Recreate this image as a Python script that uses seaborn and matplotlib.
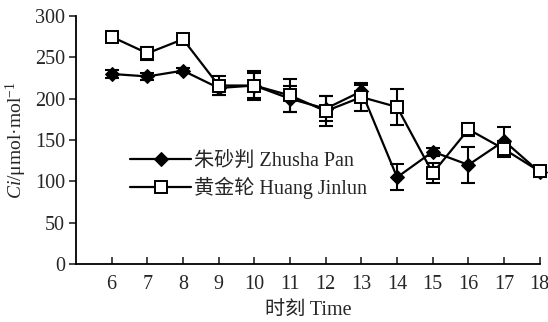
import matplotlib
matplotlib.use("Agg")
import matplotlib.pyplot as plt
import seaborn as sns
import pandas as pd

hours = [6, 7, 8, 9, 10, 11, 12, 13, 14, 15, 16, 17, 18]
zhusha_ci = [230, 227, 234, 213, 216, 200, 188, 209, 105, 136, 120, 149, 111]
zhusha_err = [5, 4, 3, 9, 15, 16, 15, 8, 16, 5, 22, 17, 6]
huang_ci = [275, 255, 272, 216, 216, 204, 185, 202, 190, 110, 163, 139, 112]
huang_err = [3, 8, 3, 12, 17, 20, 18, 17, 22, 12, 8, 10, 6]
series_names = ["朱砂判 Zhusha Pan", "黄金轮 Huang Jinlun"]
y_ticks = [0, 50, 100, 150, 200, 250, 300]

sns.set_style("ticks")
plt.rcParams["font.family"] = ["Liberation Serif", "Noto Sans CJK SC", "DejaVu Sans"]
plt.rcParams["mathtext.fontset"] = "custom"
plt.rcParams["mathtext.rm"] = "Liberation Serif"
plt.rcParams["mathtext.it"] = "Liberation Serif:italic"

df = pd.concat([
    pd.DataFrame({"hour": hours, "ci": zhusha_ci, "err": zhusha_err, "cultivar": series_names[0]}),
    pd.DataFrame({"hour": hours, "ci": huang_ci, "err": huang_err, "cultivar": series_names[1]}),
])

fig = plt.figure(figsize=(5.48, 3.22), dpi=100)
ax = fig.add_axes([0.1387, 0.18, 0.8463, 0.77])

styles = {
    series_names[0]: dict(marker="D", markersize=7.5, markerfacecolor="black", markeredgecolor="black"),
    series_names[1]: dict(marker="s", markersize=9, markerfacecolor="white", markeredgecolor="black",
                          markeredgewidth=1.4),
}

for name in series_names:
    sub = df[df["cultivar"] == name]
    eb = ax.errorbar(sub["hour"], sub["ci"], yerr=sub["err"], fmt="none", ecolor="black",
                     elinewidth=1.5, capsize=5, capthick=1.5, zorder=2)
    for artist in eb.lines[1] + eb.lines[2]:
        artist.set_clip_on(False)

for name in series_names:
    sub = df[df["cultivar"] == name]
    sns.lineplot(data=sub, x="hour", y="ci", ax=ax, color="black", linewidth=1.6,
                 label=name, zorder=3, clip_on=False, **styles[name])

ax.set_xlim(5, 18)
ax.set_ylim(0, 300)
ax.set_xticks(hours)
ax.set_yticks(y_ticks)
ax.tick_params(axis="x", direction="in", length=5, width=1.2, labelsize=14.5, pad=8)
ax.tick_params(axis="y", direction="out", length=5, width=1.2, labelsize=14.5, pad=3)
for s in ["left", "bottom"]:
    ax.spines[s].set_linewidth(1.3)
    ax.spines[s].set_color("black")
ax.spines["top"].set_visible(False)
ax.spines["right"].set_visible(False)

ax.set_xlabel("时刻 Time", fontsize=14.5, labelpad=5)
ax.set_ylabel(r"$\mathit{Ci}$/μmol·mol$^{-1}$", fontsize=14, labelpad=4)

ax.legend(loc="upper left", bbox_to_anchor=(0.1, 0.485), frameon=False, fontsize=14.5,
          handlelength=3.0, handletextpad=0.15, labelspacing=0.3, borderaxespad=0)

fig.savefig("out.png", dpi=100)
